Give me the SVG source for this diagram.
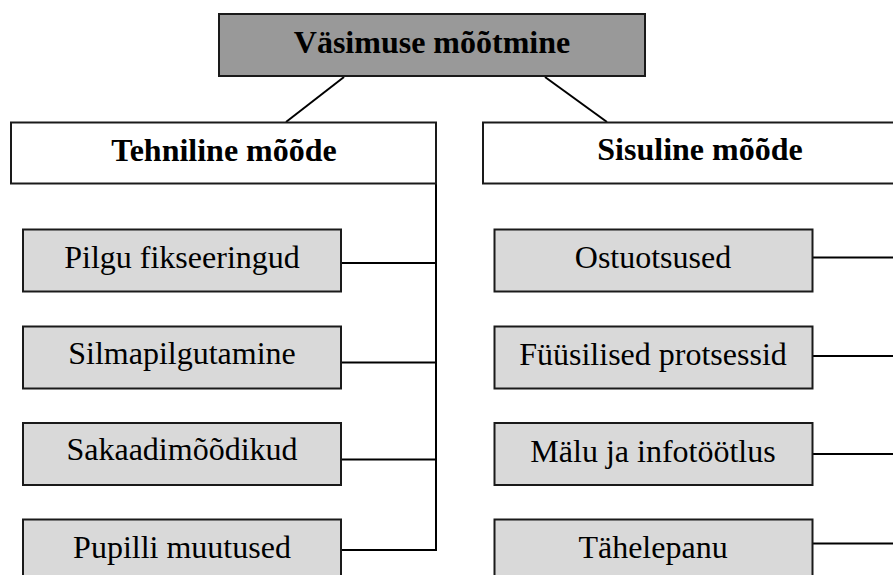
<svg xmlns="http://www.w3.org/2000/svg" width="893" height="575" viewBox="0 0 893 575">
<style>
.box{stroke:#1a1a1a;stroke-width:2}
.root{fill:#999999}
.cat{fill:#ffffff}
.leaf{fill:#d9d9d9}
.c{stroke:#000;stroke-width:2;fill:none}
</style>
<rect width="893" height="575" fill="#fff"/>
<g id="connectors">
<line class="c" x1="344" y1="77" x2="286" y2="122"/>
<line class="c" x1="545" y1="77" x2="607" y2="122"/>
<polyline class="c" points="436,184 436,550 341,550"/>
<line class="c" x1="341" y1="263" x2="436" y2="263"/>
<line class="c" x1="341" y1="362.5" x2="436" y2="362.5"/>
<line class="c" x1="341" y1="459.5" x2="436" y2="459.5"/>
<line class="c" x1="813" y1="257.5" x2="893" y2="257.5"/>
<line class="c" x1="813" y1="356" x2="893" y2="356"/>
<line class="c" x1="813" y1="454" x2="893" y2="454"/>
<line class="c" x1="813" y1="543.5" x2="893" y2="543.5"/>
</g>
<g font-family="Liberation Serif, Times New Roman, serif" font-size="32" fill="#000" text-anchor="middle">
<g id="root"><rect class="box root" x="219" y="14" width="426" height="62"/><text font-weight="bold" x="432" y="53">Väsimuse mõõtmine</text></g>
<g id="tehniline"><rect class="box cat" x="11" y="122.5" width="425" height="61"/><text font-weight="bold" x="224" y="161">Tehniline mõõde</text></g>
<g id="sisuline"><rect class="box cat" x="483" y="122.5" width="440" height="61"/><text font-weight="bold" x="700" y="160">Sisuline mõõde</text></g>
<g id="pilgu"><rect class="box leaf" x="23" y="229.5" width="318" height="62"/><text x="182" y="268">Pilgu fikseeringud</text></g>
<g id="silmapilgutamine"><rect class="box leaf" x="23" y="326.5" width="318" height="62"/><text x="182" y="363.5">Silmapilgutamine</text></g>
<g id="sakaadi"><rect class="box leaf" x="23" y="423" width="318" height="62"/><text x="182" y="460">Sakaadimõõdikud</text></g>
<g id="pupilli"><rect class="box leaf" x="23" y="519.5" width="318" height="62"/><text x="182" y="558">Pupilli muutused</text></g>
<g id="ostuotsused"><rect class="box leaf" x="494.5" y="229.5" width="318" height="62"/><text x="653" y="268">Ostuotsused</text></g>
<g id="fyysilised"><rect class="box leaf" x="494.5" y="326.5" width="318" height="62"/><text x="653" y="365">Füüsilised protsessid</text></g>
<g id="malu"><rect class="box leaf" x="494.5" y="423" width="318" height="62"/><text x="653" y="461.5">Mälu ja infotöötlus</text></g>
<g id="tahelepanu"><rect class="box leaf" x="494.5" y="519.5" width="318" height="62"/><text x="653" y="558">Tähelepanu</text></g>
</g>
</svg>
